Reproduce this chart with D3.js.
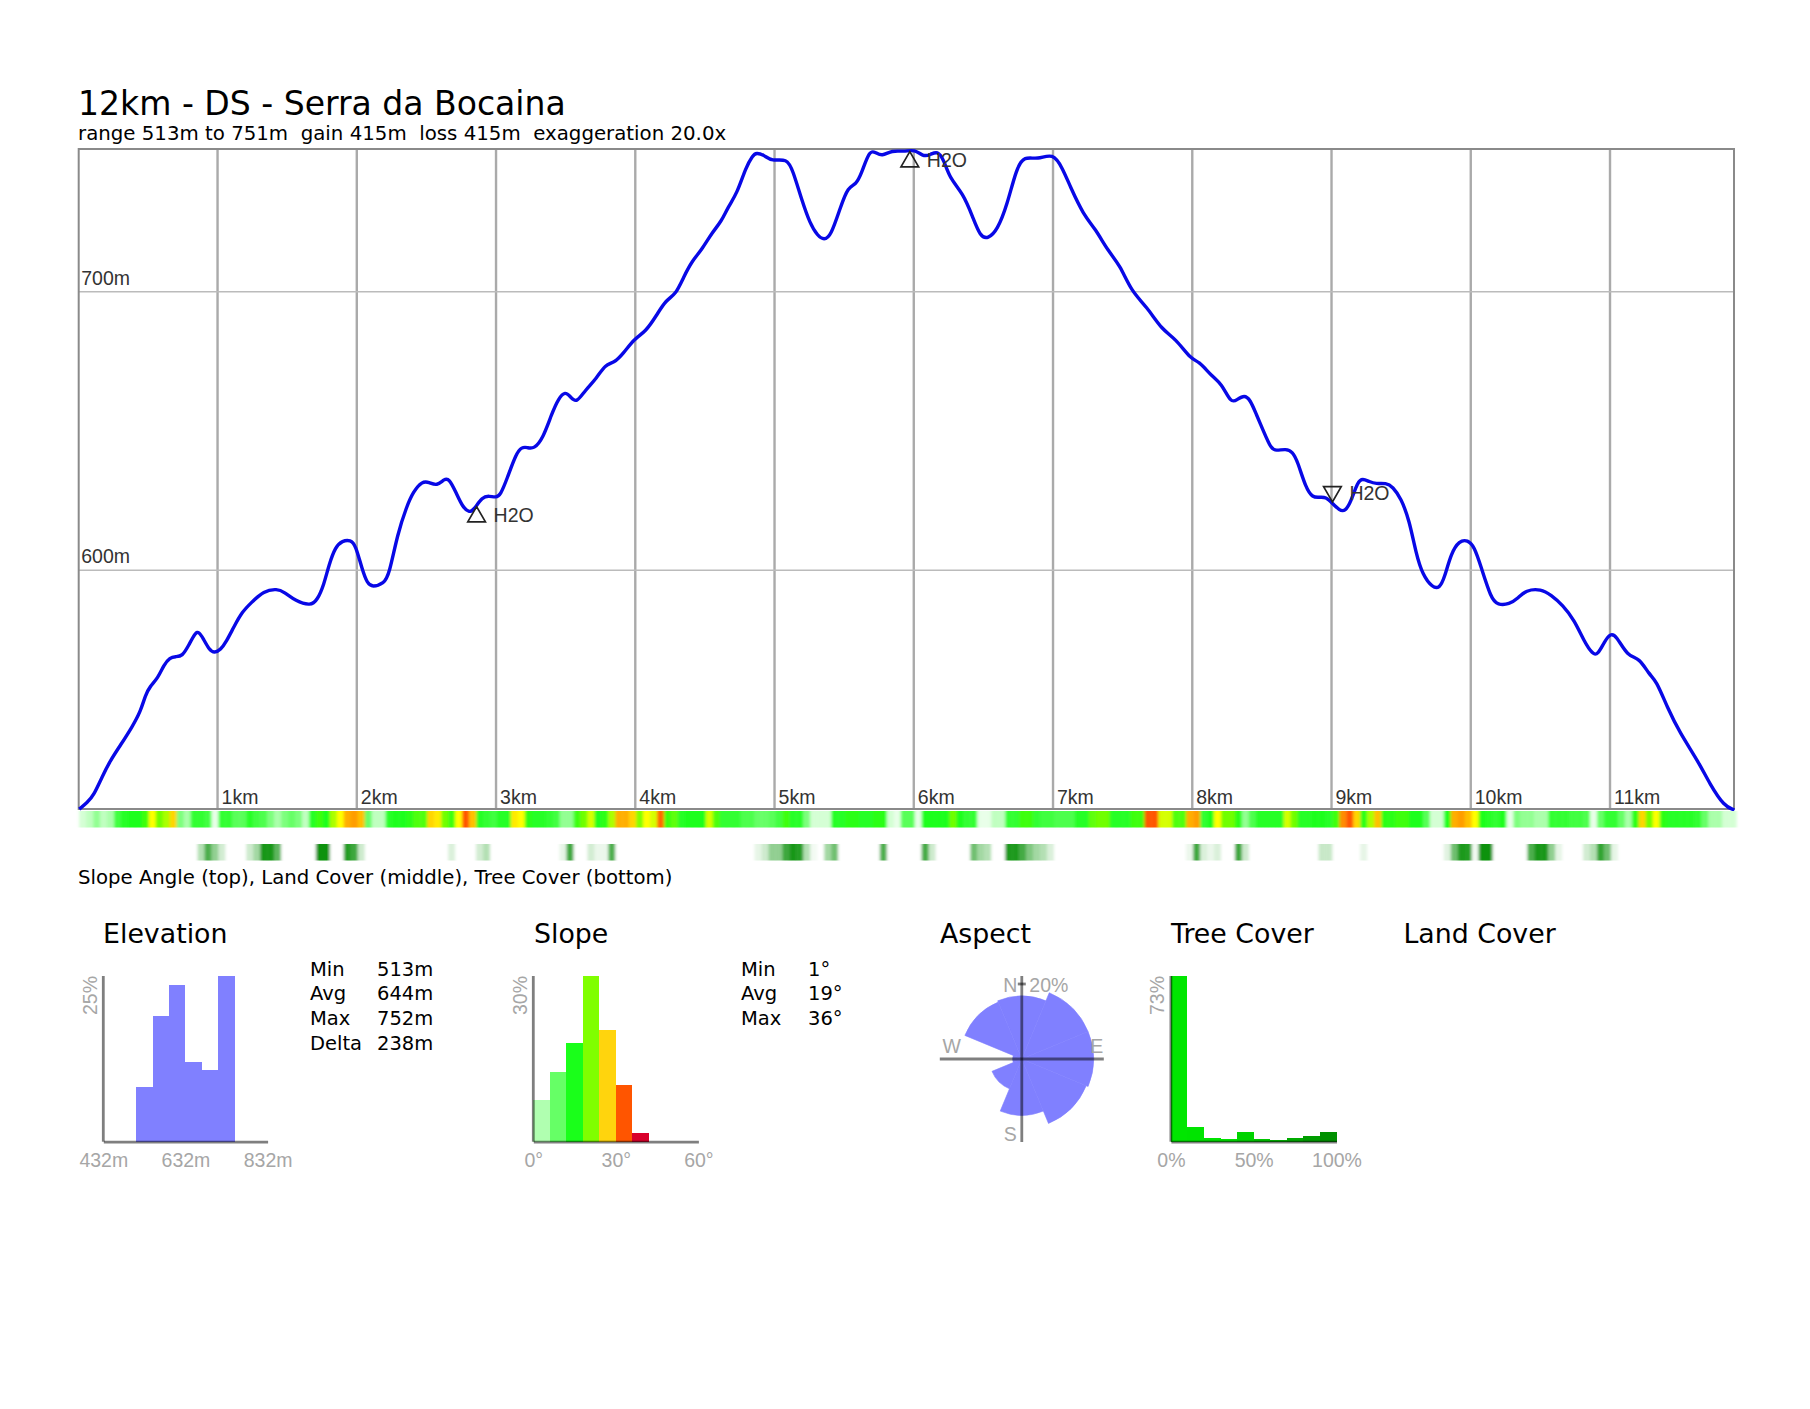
<!DOCTYPE html>
<html>
<head>
<meta charset="utf-8">
<script src="https://cdn.jsdelivr.net/npm/d3@7"></script>
<style>
  html, body { margin: 0; background: #fff; }
  svg { display: block; }
  .sans { font-family: "DejaVu Sans"; fill: #000; }
  .arial { font-family: "Liberation Sans"; }
</style>
</head>
<body>
<svg id="chart" width="1810" height="1409"></svg>
<script>
// elevation profile, km along the route and metres
const profileKm = [0, .057, .105, .165, .225, .297, .381, .44, .476, .507, .565, .608, .651, .692, .74, .788, .836, .859, .891, .931, .972,
  1.015, 1.056, 1.111, 1.171, 1.231, 1.326, 1.422, 1.47, 1.554, 1.662, 1.71, 1.757, 1.793, 1.841, 1.889, 1.949, 1.985,
  2.033, 2.069, 2.105, 2.189, 2.225, 2.287, 2.351, 2.399, 2.463, 2.511, 2.569, 2.624, 2.656, 2.704, 2.752, 2.8, 2.832, 2.896, 2.945, 2.993,
  3.025, 3.073, 3.137, 3.179, 3.217, 3.265, 3.33, 3.394, 3.442, 3.49, 3.528, 3.57, 3.634, 3.714, 3.778, 3.843, 3.907, 3.987,
  4.067, 4.147, 4.212, 4.285, 4.34, 4.404, 4.468, 4.548, 4.612, 4.66, 4.724, 4.788, 4.837, 4.862, 4.918, 4.973,
  5.083, 5.124, 5.193, 5.248, 5.303, 5.349, 5.399, 5.468, 5.522, 5.578, 5.619, 5.674, 5.715, 5.764, 5.838, 5.921,
  6.003, 6.058, 6.113, 6.163, 6.21, 6.251, 6.347, 6.416, 6.471, 6.526, 6.594, 6.664, 6.731, 6.787, 6.883, 6.993,
  7.062, 7.117, 7.213, 7.296, 7.392, 7.474, 7.557, 7.667, 7.777, 7.873, 7.989,
  8.038, 8.135, 8.203, 8.272, 8.313, 8.368, 8.41, 8.45, 8.51, 8.558, 8.594, 8.666, 8.714, 8.75, 8.81, 8.858, 8.906, 8.953,
  9.001, 9.049, 9.09, 9.133, 9.181, 9.217, 9.265, 9.313, 9.385, 9.433, 9.493, 9.552, 9.6, 9.648, 9.72, 9.768, 9.804, 9.852, 9.911, 9.971,
  10.019, 10.067, 10.139, 10.187, 10.271, 10.331, 10.39, 10.498, 10.57, 10.654, 10.737, 10.809, 10.869, 10.905, 10.953, 10.996,
  11.037, 11.12, 11.204, 11.276, 11.324, 11.408, 11.491, 11.635, 11.707, 11.815, 11.887];
const profileElev = [514, 516.3, 519, 525.7, 531.6, 537, 543.6, 549, 555, 558, 561, 565.8, 568.5, 568.8, 568.8, 573, 577.5, 577.7, 575.3, 571.4, 570,
  571.2, 574.1, 579.5, 584.9, 587.9, 592.5, 593.1, 592.1, 588.7, 587, 589.1, 594.5, 601.7, 608.3, 610.4, 610.7, 608.9,
  599.9, 595.1, 593.7, 595.1, 598.1, 613, 622.6, 628, 631.8, 631.5, 630, 632.7, 632.7, 628, 622.6, 620.5, 621.4, 626.2, 626.5, 625.9,
  626.8, 632.7, 641.7, 644.1, 643.9, 643.3, 647.1, 656.1, 661.5, 664.1, 662.1, 659.7, 664.5, 668.6, 673.8, 674.3, 677.6, 683,
  685.4, 691.4, 696.8, 698.9, 705.1, 711.1, 714.7, 721.3, 725.1, 730.3, 735.1, 744.6, 748.8, 749.8, 749, 746.6,
  747.8, 743.6, 732.2, 724.4, 719.9, 718.4, 719.9, 730.4, 737.6, 738.2, 742.4, 750.5, 750.1, 748.4, 750.7, 750.1,
  751, 748.4, 749, 750.5, 747.2, 740.6, 735.2, 726.8, 719.6, 718.8, 722, 731, 744.2, 748.6, 747.2, 749.8,
  744.2, 737.6, 727.4, 722.6, 714.2, 709.5, 699.9, 694.5, 686.1, 683.1, 675.3,
  675.1, 669.4, 667, 659.8, 661, 662.8, 661, 656.2, 649.2, 643.6, 642.7, 643.4, 642.4, 638.9, 629.2, 625.9, 626, 626.2,
  623.8, 621.4, 620.8, 624.4, 631.6, 632.8, 631.6, 630.8, 631.2, 629.8, 625.6, 617.8, 605.9, 598.1, 593.5, 593.3, 596.9, 605.9, 610.4, 610.7,
  608.3, 601.1, 589.7, 587.3, 587.6, 589.7, 592.7, 593.1, 590.9, 587.3, 581.9, 574.1, 569.6, 569.4, 574.1, 577.1,
  576.5, 568.8, 568.4, 562.2, 560.4, 550.2, 541.8, 530.5, 523.3, 514.9, 513.7];

const kmTicks = [1, 2, 3, 4, 5, 6, 7, 8, 9, 10, 11];
const elevTicks = [600, 700];

// water points on the profile
const waterKm = [2.854, 5.965, 9];
const waterElev = [619, 746.5, 628];
const waterDown = [false, false, true];

// one reading per 50 m of route
const stripStepKm = 0.05;
const slopeStrip = [
  4, 5, 7, 5, 6, 12, 14, 15, 15, 17, 24, 20, 22, 26, 8, 6, 13, 13, 12, 3,
  13, 13, 10, 10, 14, 12, 11, 8, 6, 8, 9, 8, 5, 14, 17, 15, 22, 24, 28, 29,
  27, 9, 5, 5, 14, 15, 15, 16, 18, 18, 26, 25, 20, 17, 24, 33, 27, 14, 13, 12,
  14, 14, 25, 24, 16, 14, 14, 13, 12, 7, 7, 17, 20, 23, 15, 16, 22, 28, 28, 26,
  21, 24, 23, 32, 17, 19, 14, 15, 15, 15, 23, 18, 13, 13, 13, 11, 11, 9, 9, 10,
  12, 17, 14, 14, 8, 4, 4, 4, 14, 14, 16, 16, 14, 14, 16, 16, 4, 3, 10, 10,
  3, 15, 15, 15, 15, 20, 15, 13, 13, 3, 3, 5, 5, 13, 13, 17, 17, 13, 12, 12,
  11, 11, 11, 14, 14, 19, 20, 20, 14, 14, 14, 17, 17, 33, 33, 23, 23, 18, 18,
  28, 29, 13, 15, 24, 20, 20, 16, 7, 11, 14, 14, 14, 14, 23, 20, 14, 14, 15, 15,
  14, 17, 30, 33, 26, 16, 22, 27, 16, 16, 17, 17, 15, 15, 10, 4, 4, 15, 28, 29,
  27, 24, 15, 14, 13, 15, 3, 8, 7, 7, 6, 6, 13, 13, 13, 12, 12, 11, 3, 9,
  13, 13, 9, 6, 16, 26, 20, 24, 16, 14, 14, 14, 14, 13, 9, 6, 6, 4, 4];
const treeStrip = [
  0, 0, 0, 0, 0, 0, 0, 0, 0, 0, 0, 0, 0, 0, 0, 0, 0, 30, 60, 40,
  18, 0, 0, 0, 20, 35, 95, 95, 55, 0, 0, 0, 0, 0, 100, 100, 0, 0, 85, 70,
  20, 0, 0, 0, 0, 0, 0, 0, 0, 0, 0, 0, 0, 15, 0, 0, 0, 18, 30, 0,
  0, 0, 0, 0, 0, 0, 0, 0, 0, 10, 70, 0, 0, 18, 8, 8, 60, 0, 0, 0,
  0, 0, 0, 0, 0, 0, 0, 0, 0, 0, 0, 0, 0, 0, 0, 0, 0, 10, 20, 40,
  40, 70, 95, 85, 30, 5, 0, 35, 50, 0, 0, 0, 0, 0, 0, 60, 0, 0, 0, 0,
  0, 65, 20, 0, 0, 0, 0, 0, 50, 35, 30, 0, 0, 90, 90, 65, 45, 35, 30, 15,
  0, 0, 0, 0, 0, 0, 0, 0, 0, 0, 0, 0, 0, 0, 0, 0, 0, 0, 0,
  8, 70, 15, 8, 15, 0, 0, 70, 20, 0, 0, 0, 0, 0, 0, 0, 0, 0, 0, 22,
  22, 0, 0, 0, 0, 10, 0, 0, 0, 0, 0, 0, 0, 0, 0, 0, 0, 12, 50, 90,
  85, 5, 100, 100, 0, 0, 0, 0, 0, 60, 95, 95, 40, 10, 0, 0, 0, 18, 30, 75,
  50, 10, 0, 0, 0, 0, 0, 0, 0, 0, 0, 0, 0, 0, 0, 0, 0, 0, 0];

// histograms, percent per bin
const elevBinStart = 512;
const elevBinSize = 40;
const elevHist = [8.2, 18.9, 23.6, 12, 10.8, 25];
const slopeBinSize = 6;
const slopeHist = [7.6, 12.7, 17.9, 30, 20.2, 10.2, 1.5];
const treeBinSize = 10;
const treeHist = [73, 6.6, 1.6, 1, 4.1, 1, 0.6, 1.6, 2.4, 4.1];

// aspect rose, percent per compass sector starting at north, clockwise
const aspectDirs = ["N", "NE", "E", "SE", "S", "SW", "W", "NW"];
const aspectPct = [14.1, 18.3, 18.3, 17.3, 11.3, 3.7, 0.3, 13.5];

const elevStats = [["Min", "513m"], ["Avg", "644m"], ["Max", "752m"], ["Delta", "238m"]];
const slopeStats = [["Min", "1°"], ["Avg", "19°"], ["Max", "36°"]];

const AXIS_OPACITY = 0.5;
const LABEL_GRAY = "#a6a6a6";
const PURPLE = "#8080ff";
const SLOPE_BAR_COLORS = ["#b0ffb0", "#66ff66", "#1aff1a", "#80ff00", "#ffd40d", "#ff5500", "#d9002b"];

const svg = d3.select("#chart");

const plotLeft = 78.7, plotRight = 1734, plotTop = 149, plotBottom = 809;
const x = d3.scaleLinear().domain([0, 11.894]).range([77.8, plotRight]);
const y = d3.scaleLinear().domain([600, 700]).range([569.7, 291.3]);
// the line and strips were read about 1.4px left of the km grid
const readingOffsetKm = 0.01;

// soft sideways blur, the strips are stretched from coarse samples
svg.append("defs").append("filter")
  .attr("id", "strip-blur")
  .attr("x", "-2%").attr("width", "104%").attr("y", "-20%").attr("height", "140%")
  .append("feGaussianBlur").attr("stdDeviation", "1.8 0.5");

svg.append("text").attr("class", "sans")
  .attr("x", 78).attr("y", 114.5).attr("font-size", 33.05)
  .text("12km - DS - Serra da Bocaina");
svg.append("text").attr("class", "sans")
  .attr("x", 78).attr("y", 140).attr("font-size", 19.78)
  .text("range 513m to 751m  gain 415m  loss 415m  exaggeration 20.0x")
  .attr("xml:space", "preserve").style("white-space", "pre");

// grid
const xAxis = svg.append("g")
  .attr("transform", `translate(0,${plotBottom})`)
  .call(d3.axisBottom(x).tickValues(kmTicks).tickSize(plotTop - plotBottom).tickFormat(d => d + "km"));
xAxis.select(".domain").remove();
xAxis.selectAll("line").attr("stroke", "#aaa").attr("stroke-width", 2.4);
xAxis.selectAll("text")
  .attr("class", "arial").attr("font-size", 19.5).attr("fill", "#333")
  .attr("text-anchor", "start").attr("dx", 4).attr("dy", 0).attr("y", -5);

const yAxis = svg.append("g")
  .attr("transform", `translate(${plotLeft},0)`)
  .call(d3.axisRight(y).tickValues(elevTicks).tickSize(plotRight - plotLeft).tickFormat(d => d + "m"));
yAxis.select(".domain").remove();
yAxis.selectAll("line").attr("stroke", "#bbb").attr("stroke-width", 1.6);
yAxis.selectAll("text")
  .attr("class", "arial").attr("font-size", 19.5).attr("fill", "#333")
  .attr("x", 2.5).attr("dy", -7);

svg.append("rect")
  .attr("x", plotLeft).attr("y", plotTop)
  .attr("width", plotRight - plotLeft).attr("height", plotBottom - plotTop)
  .attr("fill", "none").attr("stroke", "#8a8a8a").attr("stroke-width", 2);

// profile line
const profile = d3.line()
  .x(d => x(d[0] + readingOffsetKm))
  .y(d => y(d[1]))
  .curve(d3.curveBasis);
svg.append("path")
  .datum(d3.zip(profileKm, profileElev))
  .attr("d", profile)
  .attr("fill", "none").attr("stroke", "#0808e6").attr("stroke-width", 3.4);

// water markers
const triangle = d3.symbol().type(d3.symbolTriangle).size(135);
waterKm.forEach((km, i) => {
  const g = svg.append("g").attr("transform", `translate(${x(km + readingOffsetKm)},${y(waterElev[i])})`);
  g.append("path")
    .attr("d", triangle())
    .attr("transform", waterDown[i] ? "rotate(180)" : null)
    .attr("fill", "none").attr("stroke", "#222").attr("stroke-width", 1.7);
  g.append("text").attr("class", "arial")
    .attr("x", 17).attr("y", waterDown[i] ? 8 : 5)
    .attr("font-size", 19.5).attr("fill", "#333")
    .text("H2O");
});

// slope and tree strips
const slopeColor = d3.scaleLinear()
  .domain([0, 3, 5, 9, 15, 21, 24, 27, 33, 39])
  .range(["#ffffff", "#e8ffe8", "#c0ffc0", "#66ff66", "#1aff1a", "#80ff00", "#ffff00", "#ffc000", "#ff5500", "#d9002b"]);
const treeColor = d3.scaleLinear()
  .domain([0, 30, 60, 100])
  .range(["#ffffff", "#b4e0b4", "#4cae4c", "#0a920a"]);

function drawStrip(values, color, top, height) {
  svg.append("g")
    .attr("filter", "url(#strip-blur)")
    .selectAll("rect")
    .data(values)
    .join("rect")
    .attr("x", (d, i) => x(i * stripStepKm + readingOffsetKm))
    .attr("y", top)
    .attr("width", x(stripStepKm) - x(0) + 0.4)
    .attr("height", height)
    .attr("fill", d => color(d));
}
drawStrip(slopeStrip, slopeColor, 811, 16.5);
drawStrip(treeStrip, treeColor, 844, 16.5);

svg.append("text").attr("class", "sans")
  .attr("x", 78).attr("y", 884).attr("font-size", 19.7)
  .text("Slope Angle (top), Land Cover (middle), Tree Cover (bottom)");

// small charts
const histTop = 976, histBottom = 1141.7;

function heading(text, left) {
  svg.append("text").attr("class", "sans")
    .attr("x", left).attr("y", 943).attr("font-size", 26.8)
    .text(text);
}

function statsTable(rows, left, valueLeft) {
  rows.forEach((row, i) => {
    const rowY = d3.scaleLinear().domain([0, 1]).range([975.7, 1000.3])(i);
    svg.append("text").attr("class", "sans").attr("x", left).attr("y", rowY).attr("font-size", 19.5).text(row[0]);
    svg.append("text").attr("class", "sans").attr("x", valueLeft).attr("y", rowY).attr("font-size", 19.5).text(row[1]);
  });
}

function histogram({ left, right, domain, binStart, binSize, values, colors, yLabel, ticks, tickFormat }) {
  const hx = d3.scaleLinear().domain(domain).range([left, right]);
  const hy = d3.scaleLinear().domain([0, d3.max(values)]).range([histBottom, histTop]);

  svg.append("g").selectAll("rect")
    .data(values)
    .join("rect")
    .attr("x", (d, i) => hx(binStart + i * binSize))
    .attr("y", d => hy(d))
    .attr("width", hx(domain[0] + binSize) - hx(domain[0]))
    .attr("height", d => histBottom - hy(d))
    .attr("fill", (d, i) => colors(i))
    .attr("shape-rendering", "crispEdges");

  const axis = svg.append("g")
    .attr("transform", `translate(0,${histBottom})`)
    .call(d3.axisBottom(hx).tickValues(ticks).tickSize(0).tickFormat(tickFormat));
  axis.select(".domain")
    .attr("stroke", "#000").attr("stroke-opacity", AXIS_OPACITY).attr("stroke-width", 2.8);
  axis.selectAll("text")
    .attr("class", "arial").attr("font-size", 19.5).attr("fill", LABEL_GRAY)
    .attr("dy", 0).attr("y", 25);

  svg.append("line")
    .attr("x1", left).attr("x2", left).attr("y1", histTop).attr("y2", histBottom)
    .attr("stroke", "#000").attr("stroke-opacity", AXIS_OPACITY).attr("stroke-width", 2.8);

  svg.append("text").attr("class", "arial")
    .attr("transform", `translate(${left - 6.5},${histTop}) rotate(-90)`)
    .attr("text-anchor", "end")
    .attr("font-size", 19.5).attr("fill", LABEL_GRAY)
    .text(yLabel);
}

heading("Elevation", 103);
histogram({
  left: 103.3, right: 267.6, domain: [432, 832],
  binStart: elevBinStart, binSize: elevBinSize, values: elevHist,
  colors: () => PURPLE, yLabel: "25%", ticks: [432, 632, 832], tickFormat: d => d + "m"
});
statsTable(elevStats, 310, 377);

heading("Slope", 534);
histogram({
  left: 533.3, right: 698.4, domain: [0, 60],
  binStart: 0, binSize: slopeBinSize, values: slopeHist,
  colors: i => SLOPE_BAR_COLORS[i], yLabel: "30%", ticks: [0, 30, 60], tickFormat: d => d + "°"
});
statsTable(slopeStats, 741, 808);

heading("Aspect", 940);
const roseX = 1021.8, roseY = 1059;
const roseR = d3.scaleSqrt().domain([0, 20]).range([0, 75]);
const sector = 2 * Math.PI / aspectDirs.length;
const wedge = d3.arc().innerRadius(0);
const rose = svg.append("g").attr("transform", `translate(${roseX},${roseY})`);
rose.selectAll("path")
  .data(aspectPct)
  .join("path")
  .attr("d", (d, i) => wedge({ outerRadius: roseR(d), startAngle: (i - 0.5) * sector, endAngle: (i + 0.5) * sector }))
  .attr("fill", PURPLE)
  .attr("stroke", PURPLE).attr("stroke-width", 0.6);
[[-82, 0, 82, 0], [0, -83, 0, 83], [-4, -roseR(20), 4, -roseR(20)]].forEach(l => {
  rose.append("line")
    .attr("x1", l[0]).attr("y1", l[1]).attr("x2", l[2]).attr("y2", l[3])
    .attr("stroke", "#000").attr("stroke-opacity", AXIS_OPACITY).attr("stroke-width", 2.8);
});
[["N", -11.5, -67, "middle"], ["E", 75, -6.5, "middle"], ["S", -11.5, 82, "middle"], ["W", -70, -6.5, "middle"], ["20%", 7.5, -67, "start"]].forEach(l => {
  rose.append("text").attr("class", "arial")
    .attr("x", l[1]).attr("y", l[2]).attr("text-anchor", l[3])
    .attr("font-size", 19.5).attr("fill", LABEL_GRAY)
    .text(l[0]);
});

heading("Tree Cover", 1171);
const treeBarColor = d3.scaleLinear().domain([0, 3, 9]).range(["#00e600", "#00e000", "#009000"]);
histogram({
  left: 1170.9, right: 1336.5, domain: [0, 100],
  binStart: 0, binSize: treeBinSize, values: treeHist,
  colors: treeBarColor, yLabel: "73%", ticks: [0, 50, 100], tickFormat: d => d + "%"
});

heading("Land Cover", 1403.4);
</script>
</body>
</html>
